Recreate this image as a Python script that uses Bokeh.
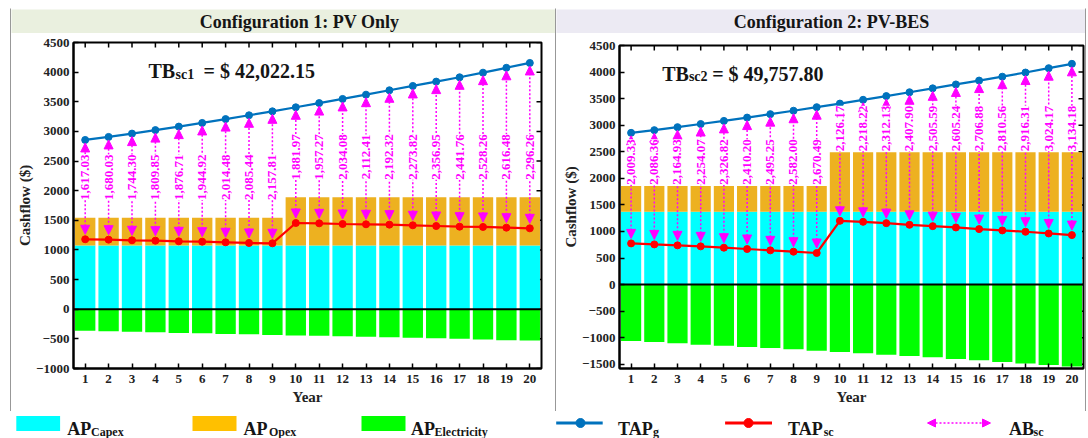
import math
from bokeh.plotting import figure
from bokeh.models import (ColumnDataSource, Range1d, LinearAxis, FixedTicker,
                          Arrow, NormalHead, Label, LabelSet, Span, Spacer)
from bokeh.layouts import column, row
from bokeh.embed import file_html
from bokeh.resources import INLINE
from bokeh.core.properties import value

FONT = "Liberation Serif"

# ---------------------------------------------------------------- data
years = [1, 2, 3, 4, 5, 6, 7, 8, 9, 10, 11, 12, 13, 14, 15, 16, 17, 18, 19, 20]

# total annual payment with grid electricity only (same for both configurations)
tap_g = [2856, 2907, 2963, 3022, 3081, 3143, 3208, 3272, 3339, 3407,
         3478, 3548, 3620, 3694, 3767, 3840, 3913, 3991, 4073, 4155]

# Configuration 1: PV only
c1_capex = [1077, 1077, 1077, 1077, 1077, 1077, 1077, 1077, 1077, 1077,
            1077, 1077, 1077, 1077, 1077, 1077, 1077, 1077, 1077, 1077]
c1_opex = [468, 468, 468, 468, 468, 468, 468, 468, 468, 813,
           813, 813, 813, 813, 813, 813, 813, 813, 813, 813]
c1_elec = [-365, -371, -382, -388, -399, -404, -416, -421, -433, -444,
           -449, -455, -466, -472, -483, -489, -500, -511, -522, -528]
c1_tap_sc = [1180, 1174, 1163, 1157, 1146, 1140, 1129, 1118, 1112, 1455,
             1449, 1438, 1433, 1427, 1416, 1404, 1393, 1388, 1376, 1365]
c1_ab_sc = [1617.03, 1680.03, 1744.30, 1809.85, 1876.71, 1944.92, 2014.48, 2085.44, 2157.81, 1881.97,
            1957.27, 2034.08, 2112.41, 2192.32, 2273.82, 2356.95, 2441.76, 2528.26, 2616.48, 2296.26]
c1_tb = 42022.15

# Configuration 2: PV-BES
c2_capex = [1369, 1369, 1369, 1369, 1369, 1369, 1369, 1369, 1369, 1369,
            1369, 1369, 1369, 1369, 1369, 1369, 1369, 1369, 1369, 1369]
c2_opex = [488, 488, 488, 488, 488, 488, 488, 488, 488, 1120,
           1120, 1120, 1120, 1120, 1120, 1120, 1120, 1120, 1120, 1120]
c2_elec = [-1063, -1081, -1106, -1131, -1150, -1175, -1194, -1219, -1244, -1269,
           -1294, -1319, -1344, -1369, -1400, -1425, -1456, -1488, -1513, -1544]
c2_tap_sc = [775, 756, 738, 719, 694, 669, 644, 619, 594, 1200,
             1181, 1156, 1125, 1100, 1075, 1044, 1019, 994, 962, 931]
c2_ab_sc = [2009.33, 2086.36, 2164.93, 2254.07, 2326.82, 2410.20, 2495.25, 2582.00, 2670.49, 2126.17,
            2218.22, 2312.13, 2407.90, 2505.59, 2605.24, 2706.88, 2810.56, 2916.31, 3024.17, 3134.18]
c2_tb = 49757.80

c1_yticks = [-1000, -500, 0, 500, 1000, 1500, 2000, 2500, 3000, 3500, 4000, 4500]
c2_yticks = [-1500, -1000, -500, 0, 500, 1000, 1500, 2000, 2500, 3000, 3500, 4000, 4500]

# ---------------------------------------------------------------- styles
CYAN = "#00FFFF"
ORANGE = "#EDB120"
ORANGE_KEY = "#FFC000"
GREEN = "#00FF00"
BLUE = "#0072BD"
RED = "#FF0000"
MAGENTA = "#FF00FF"
EDGE = "#333333"
INK = "#151515"

BODY_H = 376          # plot area of a panel, below its title strip
TITLE_H = 26
PANEL_H = BODY_H + TITLE_H + 1   # title strip, plot area and the bottom rule
FRAME_BOTTOM = 42     # space under the plot frame for the year axis
LEG_H = 27


def bare_fig(width, height, xr, yr, fill):
    f = figure(x_range=xr, y_range=yr, title=None,
               frame_width=width, frame_height=height,
               output_backend="svg", toolbar_location=None,
               x_axis_type=None, y_axis_type=None,
               min_border_left=0, min_border_right=0, min_border_top=0, min_border_bottom=0)
    f.frame_align = False
    f.outline_line_color = None
    f.background_fill_color = fill
    f.border_fill_color = fill
    return f


def rule(width, height):
    return bare_fig(width, height, Range1d(0, 1), Range1d(0, 1), EDGE)


def style_axis(ax, ticks):
    ax.ticker = FixedTicker(ticks=ticks)
    ax.major_tick_in = 5
    ax.major_tick_out = 0
    ax.major_tick_line_width = 1.5
    ax.major_tick_line_color = "black"
    ax.minor_tick_line_color = None
    ax.axis_line_width = 2
    ax.axis_line_color = "black"
    ax.major_label_text_font = FONT
    ax.major_label_text_font_style = "bold"
    ax.major_label_text_color = "#222222"
    ax.major_label_text_font_size = "13px"
    ax.axis_label_text_font = FONT
    ax.axis_label_text_font_style = "bold"
    ax.axis_label_text_font_size = "15px"
    ax.axis_label_text_color = "#222222"


def make_panel(width, page_x0, fl, fr, ft, y_min, y_ticks, capex, opex, elec, tap_sc, ab_sc,
               title, title_fill, title_cx,
               tb_sub, tb_value, tb_x, tb_base, sub_x, sub_base, eq_x, label_lift):
    fh = BODY_H - ft - FRAME_BOTTOM
    fw = width - fl - fr
    py = (4500 - y_min) / fh      # data units per pixel, vertical
    pxx = 20.0 / fw               # data units per pixel, horizontal

    # title strip: a rule above, the tinted band, a rule below
    t_rule_top = rule(width, 1)
    t = bare_fig(width, TITLE_H - 2, Range1d(page_x0, page_x0 + width), Range1d(33, 9), title_fill)
    t.text(x=[title_cx], y=[21.5], text=[title], text_align="center", text_baseline="middle",
           text_font=value(FONT), text_font_style="bold", text_font_size="18px", text_color=INK)
    t_rule_bottom = rule(width, 1)

    p = figure(width=width, height=BODY_H, x_range=Range1d(0.5, 20.5), y_range=Range1d(y_min, 4500),
               title=None, output_backend="svg", toolbar_location=None,
               x_axis_type=None, y_axis_type=None,
               min_border_left=fl, min_border_right=fr, min_border_top=ft,
               min_border_bottom=FRAME_BOTTOM)
    p.frame_align = False
    p.outline_line_color = "black"
    p.outline_line_width = 2
    p.background_fill_color = "white"
    p.border_fill_color = "white"

    xb = LinearAxis(axis_label="Year")
    style_axis(xb, years)
    xb.major_label_standoff = 6
    xb.axis_label_standoff = 3
    p.add_layout(xb, "below")

    yl = LinearAxis(axis_label="Cashflow ($)")
    style_axis(yl, y_ticks)
    yl.major_label_standoff = 4
    yl.axis_label_standoff = 0
    p.add_layout(yl, "left")

    # inward ticks mirrored on the top and right edges
    p.segment(x0=years, y0=[4500] * 20, x1=years, y1=[4500 - 5 * py] * 20,
              line_color="black", line_width=1.5)
    p.segment(x0=[20.5] * len(y_ticks), y0=y_ticks, x1=[20.5 - 5 * pxx] * len(y_ticks), y1=y_ticks,
              line_color="black", line_width=1.5)

    stack_top = [c + o for c, o in zip(capex, opex)]
    src = ColumnDataSource(dict(
        year=years, capex=capex, stack_top=stack_top, elec=elec,
        tap_g=tap_g, tap_sc=tap_sc,
        ab_lo=[v + 5 * py for v in tap_sc],
        ab_hi=[v - 3 * py for v in tap_g],
        ab_text=["{:,.2f}".format(v) for v in ab_sc],
        label_y=[s + label_lift for s in stack_top],
    ))

    bw = 0.87
    p.vbar(x="year", bottom=0, top="capex", width=bw, source=src, fill_color=CYAN, line_color=None)
    p.vbar(x="year", bottom="capex", top="stack_top", width=bw, source=src, fill_color=ORANGE, line_color=None)
    p.vbar(x="year", bottom=0, top="elec", width=bw, source=src, fill_color=GREEN, line_color=None)

    p.add_layout(Span(location=0, dimension="width", line_color="black", line_width=2))

    head = dict(size=9, fill_color=MAGENTA, line_color=MAGENTA, line_width=1)
    p.add_layout(Arrow(start=NormalHead(**head), end=NormalHead(**head),
                       x_start="year", y_start="ab_lo", x_end="year", y_end="ab_hi",
                       source=src, line_color=MAGENTA, line_width=1.5, line_dash="2 2"))

    p.line(x="year", y="tap_g", source=src, line_color=BLUE, line_width=2.2)
    p.scatter(x="year", y="tap_g", source=src, marker="circle", size=7,
              fill_color=BLUE, line_color=BLUE)
    p.line(x="year", y="tap_sc", source=src, line_color=RED, line_width=2.2)
    p.scatter(x="year", y="tap_sc", source=src, marker="circle", size=7,
              fill_color=RED, line_color=RED)

    p.add_layout(LabelSet(x="year", y="label_y", text="ab_text", source=src,
                          angle=math.pi / 2, text_align="center", text_baseline="middle",
                          text_font=value(FONT), text_font_style="bold", text_font_size="13px",
                          text_color=MAGENTA, background_fill_color="white",
                          level="overlay"))

    # total-benefit note, placed in page pixels relative to the frame
    frame_left = page_x0 + fl
    frame_bottom = 8 + TITLE_H + BODY_H - FRAME_BOTTOM

    def note(x, y, text, size):
        p.add_layout(Label(x=x - frame_left, y=frame_bottom - y, x_units="screen", y_units="screen",
                           text=text, text_align="left", text_baseline="alphabetic",
                           text_font=FONT, text_font_style="bold", text_font_size=size,
                           text_color=INK))

    note(tb_x, tb_base, "TB", "20px")
    note(sub_x, sub_base, tb_sub, "14px")
    note(eq_x, tb_base, "= $ {:,.2f}".format(tb_value), "20px")
    return column(t_rule_top, t, t_rule_bottom, p, rule(width, 1))


left = make_panel(544, 11, 62, 14, 8, -1000, c1_yticks, c1_capex, c1_opex, c1_elec, c1_tap_sc, c1_ab_sc,
                  "Configuration 1: PV Only", "#EAF0DF", 299,
                  "sc1", c1_tb, 148, 70.7, 175, 74.3, 203, 680)
right = make_panel(529, 556, 63, 2, 11, -1580, c2_yticks, c2_capex, c2_opex, c2_elec, c2_tap_sc, c2_ab_sc,
                   "Configuration 2: PV-BES", "#ECEAF3", 831,
                   "sc2", c2_tb, 661.7, 73.3, 688.4, 76, 711.7, 450)

panels = row(Spacer(width=10, height=PANEL_H), rule(1, PANEL_H), left, rule(1, PANEL_H), right,
             rule(1, PANEL_H), Spacer(width=2, height=PANEL_H))

# ---------------------------------------------------------------- legend strip
leg = bare_fig(1088, LEG_H, Range1d(0, 1088), Range1d(438, 411), "white")

KEY_Y = 422.5
leg.quad(left=[15.8, 192, 361], right=[59.6, 236, 405], top=[415.5, 415.5, 415.5],
         bottom=[430.5, 430.5, 430.5], fill_color=[CYAN, ORANGE_KEY, GREEN], line_color=None)

leg.segment(x0=[555.7, 724.6], y0=[KEY_Y, KEY_Y], x1=[602.2, 771.5], y1=[KEY_Y, KEY_Y],
            line_color=[BLUE, RED], line_width=3)
leg.scatter(x=[580, 748], y=[KEY_Y, KEY_Y], marker="circle", size=9,
            fill_color=[BLUE, RED], line_color=[BLUE, RED])
khead = dict(size=8, fill_color=MAGENTA, line_color=MAGENTA, line_width=1)
leg.add_layout(Arrow(start=NormalHead(**khead), end=NormalHead(**khead),
                     x_start=927, y_start=KEY_Y, x_end=990, y_end=KEY_Y,
                     line_color=MAGENTA, line_width=1.5, line_dash="2 2"))

leg.text(x=[66.7, 243, 410.5, 617.6, 787.6, 1008.5], y=[428.5, 428.5, 428.5, 428.5, 428.5, 428.5],
         text=["AP", "AP", "AP", "TAP", "TAP", "AB"], text_baseline="alphabetic",
         text_font=value(FONT), text_font_style="bold", text_font_size="18px", text_color=INK)
leg.text(x=[90.5, 268.4, 434, 652.6, 823.2, 1033], y=[431.2, 431.2, 431.2, 431.2, 431.2, 431.2],
         text=["Capex", "Opex", "Electricity", "g", "sc", "sc"], text_baseline="alphabetic",
         text_font=value(FONT), text_font_style="bold", text_font_size="12px", text_color=INK)

page = column(Spacer(width=1088, height=8), panels, leg)
open("out.html", "w").write(file_html(page, INLINE))
